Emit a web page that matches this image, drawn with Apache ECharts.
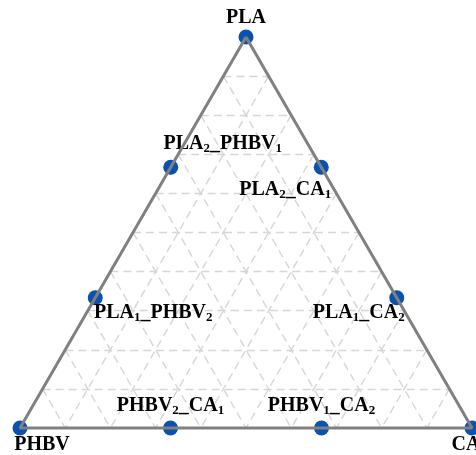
<!DOCTYPE html>
<html>
<head>
<meta charset="utf-8">
<script src="https://cdn.jsdelivr.net/npm/echarts@6/dist/echarts.min.js"></script>
<style>
  html, body { margin: 0; padding: 0; background: #fff; }
  #chart { width: 476px; height: 455px; }
</style>
</head>
<body>
<div id="chart"></div>
<script>
  // 三元组成 (PLA, PHBV, CA)
  var sampleNames = ['PLA', 'PHBV', 'CA', 'PLA2_PHBV1', 'PLA2_CA1', 'PLA1_PHBV2', 'PLA1_CA2', 'PHBV2_CA1', 'PHBV1_CA2']
  var plaFrac  = [1, 0, 0, 0.667, 0.667, 0.333, 0.333, 0, 0]
  var phbvFrac = [0, 1, 0, 0.333, 0, 0.667, 0, 0.667, 0.333]
  var caFrac   = [0, 0, 1, 0, 0.333, 0, 0.667, 0.333, 0.667]
  var labelTexts = [
    'PLA', 'PHBV', 'CA',
    'PLA{s|2}_PHBV{s|1}', 'PLA{s|2}_CA{s|1}',
    'PLA{s|1}_PHBV{s|2}', 'PLA{s|1}_CA{s|2}',
    'PHBV{s|2}_CA{s|1}', 'PHBV{s|1}_CA{s|2}'
  ]
  var labelOffsets = [[0, -19], [22, 17], [-6, 17], [52, -23], [-36, 23], [58, 15], [-38, 15], [0, -22], [0, -22]]
  var gridTicks = [0.1, 0.2, 0.3, 0.4, 0.5, 0.6, 0.7, 0.8, 0.9]

  var H = Math.sqrt(3) / 2
  // 三元坐标 -> 直角坐标
  function toXY(pla, phbv, ca) {
    var s = pla + phbv + ca
    return [(ca + pla / 2) / s, (pla / s) * H]
  }

  var points = sampleNames.map(function (n, i) {
    return {
      name: n,
      value: toXY(plaFrac[i], phbvFrac[i], caFrac[i]),
      label: { formatter: labelTexts[i], offset: labelOffsets[i] }
    }
  })

  var gridLines = []
  gridTicks.forEach(function (f) {
    gridLines.push({ coords: [toXY(f, 1 - f, 0), toXY(f, 0, 1 - f)] })
    gridLines.push({ coords: [toXY(1 - f, f, 0), toXY(0, f, 1 - f)] })
    gridLines.push({ coords: [toXY(1 - f, 0, f), toXY(0, 1 - f, f)] })
  })

  var edge = [toXY(1, 0, 0), toXY(0, 1, 0), toXY(0, 0, 1), toXY(1, 0, 0)]

  var chart = echarts.init(document.getElementById('chart'))
  chart.setOption({
    animation: false,
    grid: { left: 20, right: 4, top: 37, bottom: 27 },
    xAxis: { type: 'value', min: 0, max: 1, show: false },
    yAxis: { type: 'value', min: 0, max: H, show: false },
    series: [
      {
        type: 'lines',
        coordinateSystem: 'cartesian2d',
        silent: true,
        lineStyle: { color: '#d6d6d6', width: 1.4, type: [8, 5], opacity: 1 },
        data: gridLines
      },
      {
        type: 'line',
        silent: true,
        symbol: 'none',
        clip: false,
        lineStyle: { color: '#808080', width: 3 },
        data: edge
      },
      {
        type: 'scatter',
        clip: false,
        symbolSize: 15,
        itemStyle: { color: '#0a52ad', opacity: 1 },
        label: {
          show: true,
          position: 'inside',
          color: '#000',
          fontFamily: 'Liberation Serif',
          fontWeight: 'bold',
          fontSize: 20,
          rich: {
            s: {
              fontFamily: 'Liberation Serif',
              fontWeight: 'bold',
              fontSize: 13,
              color: '#000',
              verticalAlign: 'bottom',
              padding: [9, 0, 0, 0]
            }
          }
        },
        data: points
      }
    ]
  })
</script>
</body>
</html>
